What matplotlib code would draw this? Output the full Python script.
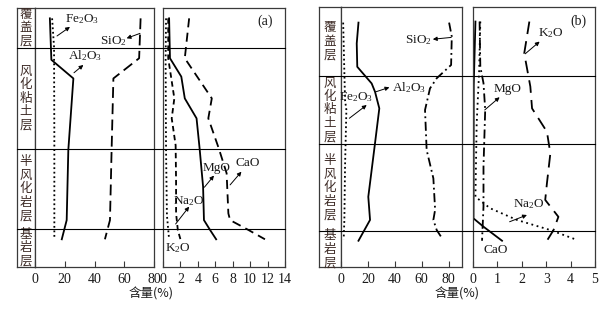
import matplotlib
matplotlib.use('Agg')
from matplotlib import pyplot as plt
from matplotlib.lines import Line2D
from matplotlib.transforms import blended_transform_factory

plt.rcParams['font.family'] = ['Liberation Serif', 'DejaVu Serif']
plt.rcParams['mathtext.default'] = 'regular'

# depth runs 0 (top of frame) .. 100 (bottom of frame)
layers = ['覆盖层', '风化粘土层', '半风化岩层', '基岩层']
bounds_a = [15.4, 54.4, 85.3]
bounds_b = [26.5, 52.7, 86.2]

# ---- profile (a), major oxides
al2o3_a = [10, 11, 25.8, 22.4, 21.3, 18]
al2o3_a_d = [4, 20, 27.2, 54.8, 81.9, 89.3]
fe2o3_a = [11.5, 12.8, 13, 13]
fe2o3_a_d = [4, 15, 50, 89.3]
sio2_a = [71, 70, 52.7, 51.5, 50.4, 47]
sio2_a_d = [4, 19.4, 27.2, 54.8, 81.9, 89.3]

# ---- profile (a), minor oxides
mgo_a = [0.7, 0.8, 2.1, 2.5, 3.85, 4.2, 4.6, 4.7, 5.4, 6.1]
mgo_a_d = [4, 19.4, 26.5, 34.9, 42.6, 54.2, 69, 81.9, 85.7, 89.3]
cao_a = [3.0, 2.5, 5.6, 5.2, 6.4, 7.3, 7.5, 7.7, 9.8, 11.7]
cao_a_d = [4, 19.4, 34.9, 42.6, 54.2, 63.8, 79.3, 81.9, 85.7, 89.3]
na2o_a = [0.6, 0.6, 1.3, 1.0, 1.45, 1.5, 1.5, 1.7, 2.0]
na2o_a_d = [4, 19.4, 34.9, 42.6, 53, 67, 79.3, 85.7, 89.3]
k2o_a = [0.35, 0.3, 0.35, 0.45, 0.7]
k2o_a_d = [4, 20, 55, 80, 89.3]

# ---- profile (b), major oxides
al2o3_b = [13.0, 11.7, 12.1, 22.8, 25.3, 28.5, 25.3, 20.3, 21.6, 13]
al2o3_b_d = [6, 14, 23, 29.4, 32.6, 39, 52.4, 73, 81.9, 89.9]
sio2_b = [80.4, 82.4, 81.9, 71.2, 66.2, 62.5, 63.7, 68.7, 70, 68.7, 71.2, 75.6]
sio2_b_d = [6, 11.4, 22.3, 27.4, 31.3, 39.6, 55, 65.9, 78, 81.9, 85.8, 89.3]
fe2o3_b = [1.6, 3, 4.0, 3, 2.5, 2]
fe2o3_b_d = [6, 35.8, 39.6, 61.4, 81.9, 89.3]

# ---- profile (b), minor oxides
k2o_b = [2.31, 2.1, 2.35, 2.42, 3.03, 3.17, 3.03, 2.96, 3.5, 3.3, 3.03]
k2o_b_d = [5.6, 17.8, 30.6, 39, 48, 56.3, 67.8, 74.2, 80.7, 85.8, 89.9]
mgo_b = [0.27, 0.3, 0.43, 0.5, 0.43, 0.43, 0.37]
mgo_b_d = [5.6, 23, 29.3, 39.6, 61.4, 76.8, 89.9]
na2o_b = [0.3, 0.25, 0.15, 0.1, 0.7, 1.8, 3.17, 4.18]
na2o_b_d = [5.6, 25, 45, 73, 77.4, 81.9, 85.8, 89.3]
cao_b = [0.1, 0.03, 0.02, 0.43, 1.19]
cao_b_d = [5.6, 30, 81.3, 84.5, 89.9]

frame_col = '#3a3a3a'
txt_col = '#1a1a1a'
cn_col = '#3d2b26'
lw = 1.3

fig = plt.figure(figsize=(6.11, 3.10), dpi=100)
W, H = 611.0, 310.0


def px_axes(x0, x1, y0, y1):
    ax = fig.add_axes([x0 / W, 1 - y1 / H, (x1 - x0) / W, (y1 - y0) / H])
    ax.set_ylim(100, 0)
    ax.set_yticks([])
    for s in ax.spines.values():
        s.set_color(frame_col)
        s.set_linewidth(0.9)
    return ax


def data_axes(x0, x1, y0, y1, xmax, ticks):
    ax = px_axes(x0, x1, y0, y1)
    ax.set_xlim(0, xmax)
    ax.set_xticks(ticks)
    ax.tick_params(axis='x', direction='in', length=4, width=0.8,
                   color=frame_col, labelsize=10, pad=4, labelcolor=txt_col)
    return ax


def label_column(ax, bounds):
    ax.set_xlim(0, 1)
    ax.set_xticks([])
    edges = [0] + bounds + [100]
    for name, top, bot in zip(layers, edges[:-1], edges[1:]):
        ax.text(0.5, (top + bot) / 2, '\n'.join(name), ha='center', va='center',
                fontsize=9, linespacing=1.05, color=cn_col,
                family=['Noto Sans CJK SC', 'DejaVu Sans'])


def layer_lines(ax_ref, bounds, x0, x1):
    tr = blended_transform_factory(fig.transFigure, ax_ref.transData)
    for b in bounds:
        fig.add_artist(Line2D([x0 / W, x1 / W], [b, b], transform=tr,
                              color='black', lw=0.8))


def tag(ax, text, xy, tail=None, head=None):
    ax.text(xy[0], xy[1], text, ha='center', va='center', fontsize=9.5,
            color=txt_col)
    if tail is not None:
        ax.annotate('', xy=head, xytext=tail,
                    arrowprops=dict(arrowstyle='-|>', color='black', lw=0.7,
                                    mutation_scale=6, shrinkA=0, shrinkB=0))


# ================= profile (a)
lab_a = px_axes(17, 35, 8, 267)
label_column(lab_a, bounds_a)
ax1 = data_axes(35, 154, 8, 267, 80, [0, 20, 40, 60, 80])
ax2 = data_axes(163, 285, 8, 267, 14, list(range(0, 15, 2)))
layer_lines(ax1, bounds_a, 17, 285)

ax1.plot(al2o3_a, al2o3_a_d, color='black', lw=lw)
ax1.plot(fe2o3_a, fe2o3_a_d, color='black', lw=lw, linestyle=(0, (1, 1.5)))
ax1.plot(sio2_a, sio2_a_d, color='black', lw=lw, linestyle=(0, (6, 3)))
tag(ax1, 'Fe$_2$O$_3$', (32, 4.2), (14.8, 10.8), (23.5, 7.3))
tag(ax1, 'SiO$_2$', (53, 12.6), (70.6, 9.8), (61.6, 11.7))
tag(ax1, 'Al$_2$O$_3$', (33.5, 18.5), (26.2, 25), (32.5, 22))

ax2.plot(mgo_a, mgo_a_d, color='black', lw=lw)
ax2.plot(cao_a, cao_a_d, color='black', lw=lw, linestyle=(0, (5, 3)))
ax2.plot(na2o_a, na2o_a_d, color='black', lw=lw, linestyle=(0, (3, 2)))
ax2.plot(k2o_a, k2o_a_d, color='black', lw=lw, linestyle=(0, (1, 1.5)))
tag(ax2, 'MgO', (6.1, 61.9), (4.75, 69.2), (5.85, 64.7))
tag(ax2, 'CaO', (9.7, 60), (7.7, 68.3), (9.0, 63.2))
tag(ax2, 'Na$_2$O', (2.9, 74.5), (1.45, 83.4), (3.0, 76.7))
tag(ax2, 'K$_2$O', (1.75, 92.8))
ax2.text(11.7, 5.3, '(a)', ha='center', va='center', fontsize=10, color=txt_col)

fig.text(151 / W, 1 - 294 / H, '含量(%)', ha='center', va='center', fontsize=9,
         color=txt_col, family=['Noto Sans CJK SC', 'DejaVu Sans'])

# ================= profile (b)
lab_b = px_axes(319, 341, 7, 267)
label_column(lab_b, bounds_b)
ax3 = data_axes(341, 462, 7, 267, 90, [0, 20, 40, 60, 80])
ax4 = data_axes(473, 595, 7, 267, 5, list(range(0, 6)))
layer_lines(ax3, bounds_b, 319, 595)

ax3.plot(al2o3_b, al2o3_b_d, color='black', lw=lw)
ax3.plot(sio2_b, sio2_b_d, color='black', lw=lw, linestyle=(0, (5, 2, 1, 2)))
ax3.plot(fe2o3_b, fe2o3_b_d, color='black', lw=lw, linestyle=(0, (1, 1.5)))
tag(ax3, 'SiO$_2$', (57.6, 12.7), (82, 11.7), (68.3, 12.4))
tag(ax3, 'Al$_2$O$_3$', (50.3, 30.9), (26, 32.6), (36, 30.9))
tag(ax3, 'Fe$_2$O$_3$', (11.2, 34.5), (6.2, 42.8), (19.1, 37.7))

ax4.plot(k2o_b, k2o_b_d, color='black', lw=lw, linestyle=(0, (7, 4)))
ax4.plot(mgo_b, mgo_b_d, color='black', lw=lw, linestyle=(0, (5, 2, 1, 2)))
ax4.plot(na2o_b, na2o_b_d, color='black', lw=lw, linestyle=(0, (1, 2)))
ax4.plot(cao_b, cao_b_d, color='black', lw=lw)
tag(ax4, 'K$_2$O', (3.17, 10.1), (2.14, 18), (2.73, 13.3))
tag(ax4, 'MgO', (1.43, 31.7), (0.48, 39.6), (1.09, 34.7))
tag(ax4, 'Na$_2$O', (2.28, 75.8), (1.5, 82.6), (2.21, 80))
tag(ax4, 'CaO', (0.91, 93.5))
ax4.text(4.33, 5.3, '(b)', ha='center', va='center', fontsize=10, color=txt_col)

fig.text(457 / W, 1 - 294 / H, '含量(%)', ha='center', va='center', fontsize=9,
         color=txt_col, family=['Noto Sans CJK SC', 'DejaVu Sans'])

fig.savefig('out.png', dpi=100)
